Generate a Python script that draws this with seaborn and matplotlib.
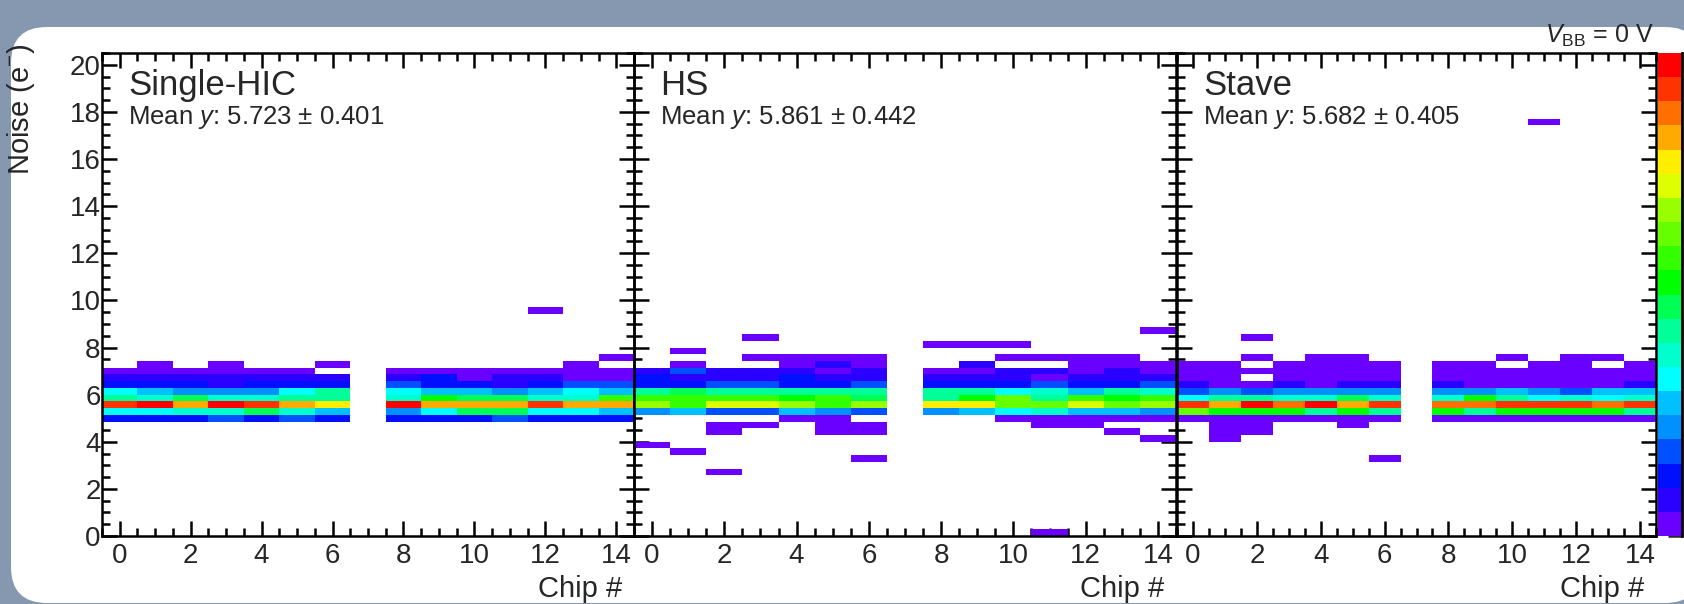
"""Noise vs chip number for Single-HIC, HS and Stave (V_BB = 0 V)."""

import numpy as np
import pandas as pd
import matplotlib
matplotlib.use("Agg")
import matplotlib.pyplot as plt
import seaborn as sns
from matplotlib.colors import ListedColormap
from matplotlib.patches import FancyBboxPatch
from matplotlib.ticker import FixedLocator, MultipleLocator

# ---------------------------------------------------------------- data
chips = list(range(15))
n_bins = 70                 # noise axis 0..20 e-, 70 bins
bin_width = 20 / n_bins
y_top = 20.5                # upper edge of the frame (e-)

panel_names = ["Single-HIC", "HS", "Stave"]
mean_text = ["5.723", "5.861", "5.682"]
rms_text = ["0.401", "0.442", "0.405"]

# 20-level rainbow palette of the colour axis (lowest -> highest)
palette = ["#6a00ff", "#2a00ff", "#0010ff", "#0050ff", "#0090ff", "#00c0ff",
           "#00ffff", "#00ffcc", "#00ff99", "#00ff55", "#00ff00", "#33ff00",
           "#66ff00", "#99ff00", "#ddff00", "#ffee00", "#ffaa00", "#ff7000",
           "#ff3300", "#ff0000"]
cbar_top = 6.41             # colour axis maximum, in units of its tick step

# colour level of each filled cell: chip -> (first noise bin, levels going up)
# None = empty bin
hic_band = {
    0: (17, [2, 6, 18, 8, 6, 2, 1, 0]),
    1: (17, [2, 6, 19, 7, 5, 2, 1, 0, 0]),
    2: (17, [2, 7, 16, 9, 4, 2, 1, 0]),
    3: (17, [3, 7, 19, 7, 4, 1, 1, 0, 0]),
    4: (17, [2, 9, 18, 7, 4, 2, 1, 0]),
    5: (17, [3, 7, 16, 8, 6, 2, 1, 0]),
    6: (17, [2, 5, 15, 8, 8, 2, 1, None, 0]),
    8: (17, [2, 4, 19, 7, 6, 3, 1, 0]),
    9: (17, [2, 6, 16, 10, 5, 2, 2, 0]),
    10: (17, [2, 9, 16, 9, 5, 2, 0, 0]),
    11: (17, [3, 9, 16, 9, 4, 1, 1, 0]),
    12: (17, [2, 6, 18, 7, 5, 2, 1, 0]),
    13: (17, [2, 6, 16, 7, 6, 3, 0, 0, 0]),
    14: (17, [2, 5, 16, 11, 5, 3, 0, 0, None, 0]),
}
hic_extra = [(12, 33, 0)]   # (chip, bin, level)

hs_band = {
    0: (18, [4, 13, 11, 8, 2, 2, 1]),
    1: (18, [5, 11, 11, 9, 2, 1, 3, 0, None, 0]),
    2: (15, [0, 0, None, 3, 14, 11, 8, 3, 1, 1]),
    3: (16, [0, None, 3, 14, 11, 8, 3, 1, 1, None, 0, None, None, 0]),
    4: (17, [0, 5, 13, 10, 8, 2, 2, 1, 0, 0]),
    5: (15, [0, 0, 0, 4, 11, 11, 8, 2, 1, 0, 1, 0]),
    6: (15, [0, 0, None, 3, 13, 9, 8, 3, 1, 1, 0, 0]),
    8: (18, [4, 15, 8, 8, 2, 1, 0, None, None, None, 0]),
    9: (18, [5, 15, 10, 8, 2, 1, 0, 1, None, None, 0]),
    10: (17, [0, 6, 12, 12, 6, 2, 1, 1, None, 0, None, 0]),
    11: (16, [0, 0, 7, 12, 8, 7, 3, 0, 1, None, 0]),
    12: (16, [0, 0, 5, 14, 11, 5, 2, 1, 0, 0, 0]),
    13: (15, [0, None, 0, 5, 12, 10, 8, 2, 1, 1, 0, 0]),
    14: (14, [0, None, None, 0, 4, 13, 11, 7, 3, 1, 0, 0,
              None, None, None, None, 0]),
}
hs_extra = [(0, 13, 0), (1, 12, 0), (2, 9, 0), (6, 11, 0), (11, 0, 0)]

stave_band = {
    0: (17, [0, 12, 18, 6, 3, 1, 0, 0, 0]),
    1: (14, [0, 0, 0, 0, 10, 16, 8, 4, 0, 0, 0, 0]),
    2: (15, [0, 0, 0, 10, 19, 8, 3, 0, None, 0, None, 0, None, None, 0]),
    3: (17, [0, 10, 17, 7, 4, 1, 0, 0, 0]),
    4: (17, [0, 8, 19, 7, 4, 0, 0, 0, 0, 0]),
    5: (16, [0, 0, 10, 16, 9, 4, 1, 0, 0, 0, 0]),
    6: (17, [0, 8, 18, 7, 4, 1, 0, 0, 0]),
    8: (17, [0, 10, 17, 7, 4, 1, 0, 0, 0]),
    9: (17, [0, 8, 17, 10, 4, 0, 0, 0, 0]),
    10: (17, [0, 10, 18, 8, 5, 0, 0, 0, None, 0]),
    11: (17, [0, 10, 18, 6, 4, 0, 0, 0, 0]),
    12: (17, [0, 10, 18, 7, 3, 0, 0, 0, 0, 0]),
    13: (17, [0, 10, 17, 6, 5, 0, 0, 0, None, 0]),
    14: (17, [0, 8, 18, 7, 5, 1, 0, 0, 0]),
}
stave_extra = [(6, 11, 0), (11, 61, 0)]

bands = [hic_band, hs_band, stave_band]
extras = [hic_extra, hs_extra, stave_extra]


def build_grid(band, extra):
    grid = np.full((n_bins, len(chips)), np.nan)
    for chip, (start, levels) in band.items():
        for k, lev in enumerate(levels):
            if lev is not None:
                grid[start + k, chip] = lev
    for chip, b, lev in extra:
        grid[b, chip] = lev
    return pd.DataFrame(grid, columns=chips)


# ---------------------------------------------------------------- figure
W, H = 1684, 604
sns.set_style("white")
plt.rcParams["font.family"] = ["Liberation Sans", "DejaVu Sans"]
plt.rcParams["mathtext.fontset"] = "custom"
plt.rcParams["mathtext.rm"] = "Liberation Sans"
plt.rcParams["mathtext.it"] = "Liberation Sans:italic"

fig = plt.figure(figsize=(W / 100, H / 100), dpi=100, facecolor="#8598b0")

# background in pixel coordinates (y down)
bg = fig.add_axes([0, 0, 1, 1], zorder=-1)
bg.set_xlim(0, W)
bg.set_ylim(H, 0)
bg.axis("off")
bg.add_patch(FancyBboxPatch((11, 27), 1690, 576,
                            boxstyle="round,pad=0,rounding_size=36",
                            fc="white", ec="none"))


def px_rect(x0, x1, y0, y1):
    return [x0 / W, 1 - y1 / H, (x1 - x0) / W, (y1 - y0) / H]


cmap = ListedColormap(palette)
frame_top, frame_bottom = 53, 536
panel_x = [(102, 634), (634, 1176), (1177, 1656)]

for i, (x0, x1) in enumerate(panel_x):
    ax = fig.add_axes(px_rect(x0, x1, frame_top, frame_bottom))
    ax.set_facecolor("none")
    df = build_grid(bands[i], extras[i])
    sns.heatmap(df, ax=ax, cmap=cmap, vmin=-0.5, vmax=len(palette) - 0.5,
                cbar=False, xticklabels=False, yticklabels=False)
    ax.set_xlim(0, len(chips))
    ax.set_ylim(0, y_top / bin_width)

    ax.xaxis.set_major_locator(FixedLocator([c + 0.5 for c in chips[::2]]))
    ax.set_xticklabels([str(c) for c in chips[::2]])
    ax.xaxis.set_minor_locator(MultipleLocator(0.5))
    yt = list(range(0, 21, 2))
    ax.yaxis.set_major_locator(FixedLocator([v / bin_width for v in yt]))
    ax.yaxis.set_minor_locator(MultipleLocator(0.5 / bin_width))
    if i == 0:
        ax.set_yticklabels([str(v) for v in yt])
    else:
        ax.set_yticklabels([])
    ax.tick_params(which="both", direction="in", top=True, right=True,
                   bottom=True, left=True, width=1.8, color="black",
                   labelsize=20)
    ax.tick_params(which="major", length=11)
    ax.tick_params(which="minor", length=6)
    ax.tick_params(axis="x", pad=5)
    ax.tick_params(axis="y", pad=1)
    for s in ax.spines.values():
        s.set_visible(True)
        s.set_linewidth(1.8)
        s.set_color("black")

    fig.text(x0 + 26, 95, panel_names[i], fontsize=25, va="baseline",
             transform=bg.transData)
    fig.text(x0 + 26, 124, f"Mean $y$: {mean_text[i]} ± {rms_text[i]}",
             fontsize=18.5, va="baseline", transform=bg.transData)
    fig.text(x1 - 12, 597, "Chip #", fontsize=21, ha="right", va="baseline",
             transform=bg.transData)

# colour axis
cax = fig.add_axes(px_rect(1658, 1682, frame_top, frame_bottom))
sns.heatmap(pd.DataFrame(np.arange(len(palette))[:, None]), ax=cax, cmap=cmap,
            vmin=-0.5, vmax=len(palette) - 0.5, cbar=False,
            xticklabels=False, yticklabels=False)
cax.set_ylim(0, len(palette))
cax.yaxis.tick_right()
cax.yaxis.set_major_locator(FixedLocator(
    [k * len(palette) / cbar_top for k in range(7)]))
cax.set_yticklabels([])
cax.tick_params(axis="y", which="major", direction="in", length=10,
                width=1.8, right=True, left=False)
for name, s in cax.spines.items():
    s.set_visible(name == "right")
    s.set_linewidth(2)
    s.set_color("black")

fig.text(21, 44, "Noise (e$^{-}$)", fontsize=21, rotation=90, ha="center",
         va="top", transform=bg.transData)
fig.text(1654, 43, r"$V_{\mathrm{BB}}$ = 0 V", fontsize=18, ha="right",
         va="baseline", transform=bg.transData)

fig.savefig("out.png", dpi=100, facecolor=fig.get_facecolor())
